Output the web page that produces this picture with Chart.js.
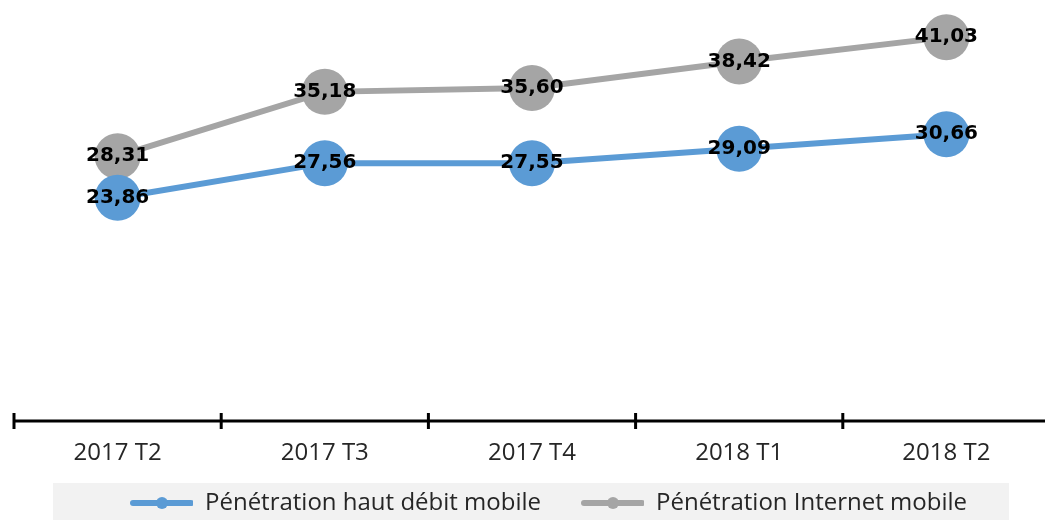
<!DOCTYPE html>
<html>
<head>
<meta charset="utf-8">
<script src="https://cdn.jsdelivr.net/npm/chart.js@4/dist/chart.umd.min.js"></script>
<style>
  html, body { margin: 0; padding: 0; background: #fff; overflow: hidden; }
  #wrap { width: 1050px; height: 520px; position: relative; }
</style>
</head>
<body>
<div id="wrap"><canvas id="c"></canvas></div>
<script>
// Penetration rates per quarter (values as labelled on the chart)
const quarters     = ["2017 T2", "2017 T3", "2017 T4", "2018 T1", "2018 T2"];
const hautDebit    = [23.86, 27.56, 27.55, 29.09, 30.66];
const internetMob  = [28.31, 35.18, 35.60, 38.42, 41.03];
const seriesNames  = ["Pénétration haut débit mobile", "Pénétration Internet mobile"];

const BLUE = "#5B9BD5";
const GRAY = "#A5A5A5";

// legend sample: line with a dot, left margin gives the gap between items
function legendMark(color) {
  const c = document.createElement("canvas");
  c.width = 96; c.height = 14;
  const g = c.getContext("2d");
  g.strokeStyle = color; g.lineWidth = 6; g.lineCap = "round";
  g.beginPath(); g.moveTo(36, 7); g.lineTo(94, 7); g.stroke();
  g.fillStyle = color;
  g.beginPath(); g.arc(65, 7, 6, 0, Math.PI * 2); g.fill();
  return c;
}

// axis line with tick marks crossing it, at category boundaries
const axisTicks = {
  id: "axisTicks",
  afterDraw(chart) {
    const x = chart.scales.x, ctx = chart.ctx;
    const y = chart.chartArea.bottom;
    const step = x.getPixelForValue(1) - x.getPixelForValue(0);
    ctx.save();
    ctx.strokeStyle = "#000";
    ctx.lineWidth = 3;
    ctx.beginPath(); ctx.moveTo(chart.chartArea.left, y); ctx.lineTo(chart.chartArea.right, y); ctx.stroke();
    quarters.forEach((q, i) => {
      const bx = x.getPixelForValue(i) - step / 2;
      ctx.beginPath(); ctx.moveTo(bx, y - 8); ctx.lineTo(bx, y + 8); ctx.stroke();
    });
    ctx.restore();
  }
};

// value labels centred on the markers
const valueLabels = {
  id: "valueLabels",
  afterDatasetsDraw(chart) {
    const ctx = chart.ctx;
    ctx.save();
    ctx.font = "bold 20px 'DejaVu Sans'";
    ctx.fillStyle = "#000";
    ctx.textAlign = "center";
    ctx.textBaseline = "middle";
    chart.data.datasets.forEach((ds, di) => {
      chart.getDatasetMeta(di).data.forEach((pt, i) => {
        ctx.fillText(ds.data[i].toFixed(2).replace(".", ","), pt.x, pt.y);
      });
    });
    ctx.restore();
  }
};

// light grey band behind the legend
const legendBg = {
  id: "legendBg",
  beforeDraw(chart) {
    const lg = chart.legend;
    if (!lg || !lg.legendHitBoxes.length) return;
    const boxes = lg.legendHitBoxes;
    const left  = Math.min(...boxes.map(b => b.left)) - 44;
    const right = Math.max(...boxes.map(b => b.left + b.width)) + 42;
    const ctx = chart.ctx;
    ctx.save();
    ctx.fillStyle = "#F2F2F2";
    ctx.fillRect(left, 483, right - left, chart.height - 483);
    ctx.restore();
  }
};

new Chart(document.getElementById("c"), {
  type: "line",
  data: {
    labels: quarters,
    datasets: [
      {
        label: seriesNames[0],
        data: hautDebit,
        borderColor: BLUE,
        backgroundColor: BLUE,
        borderWidth: 6,
        pointRadius: 23,
        pointHoverRadius: 23,
        pointBorderWidth: 0,
        tension: 0
      },
      {
        label: seriesNames[1],
        data: internetMob,
        borderColor: GRAY,
        backgroundColor: GRAY,
        borderWidth: 6,
        pointRadius: 23,
        pointHoverRadius: 23,
        pointBorderWidth: 0,
        tension: 0
      }
    ]
  },
  options: {
    responsive: true,
    maintainAspectRatio: false,
    animation: false,
    events: [],
    layout: { autoPadding: false, padding: { left: 14, right: 0, top: 0, bottom: -5 } },
    scales: {
      y: { display: false, min: 0, max: 45 },
      x: {
        offset: true,
        grid: { display: false },
        border: { display: false },
        afterFit(scale) { scale.height = 63; },
        ticks: {
          padding: 10,
          color: "#262626",
          font: { family: "'Open Sans'", size: 24 }
        }
      }
    },
    plugins: {
      tooltip: { enabled: false },
      legend: {
        position: "bottom",
        labels: {
          usePointStyle: true,
          pointStyleWidth: 96,
          padding: 7,
          color: "#262626",
          font: { family: "'Open Sans'", size: 24 },
          generateLabels(chart) {
            return chart.data.datasets.map((ds, i) => ({
              text: ds.label,
              pointStyle: legendMark(ds.borderColor),
              fillStyle: ds.borderColor,
              strokeStyle: ds.borderColor,
              lineWidth: 0,
              fontColor: "#262626",
              datasetIndex: i
            }));
          }
        }
      }
    }
  },
  plugins: [legendBg, axisTicks, valueLabels]
});
</script>
</body>
</html>
